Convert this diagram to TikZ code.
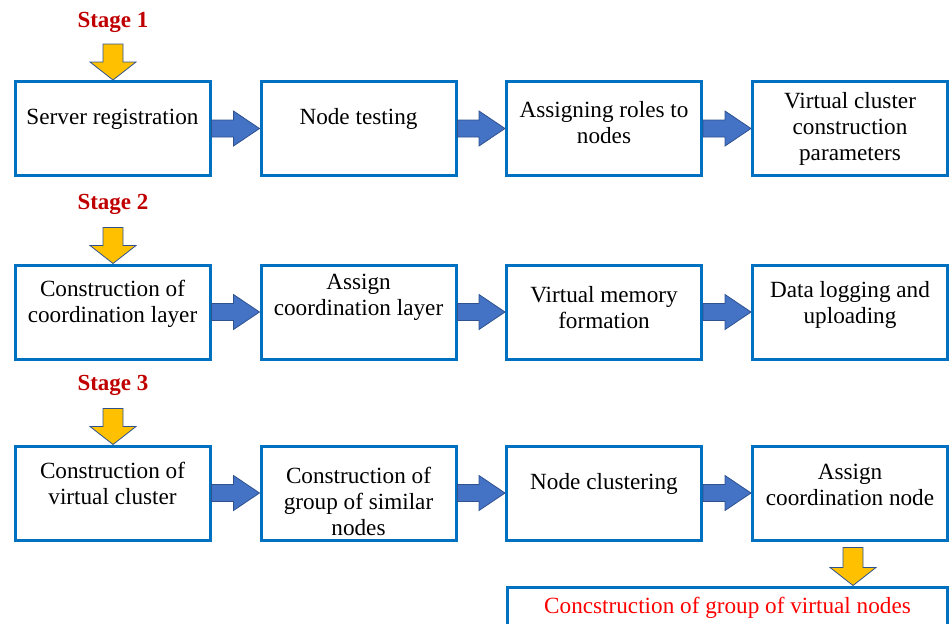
\documentclass[tikz,border=0pt]{standalone}
\usepackage{fontspec}
\setmainfont{Liberation Serif}
\usetikzlibrary{calc}
\definecolor{boxblue}{HTML}{0070C0}
\definecolor{arrfill}{HTML}{4472C4}
\definecolor{arrline}{HTML}{2F528F}
\definecolor{yel}{HTML}{FFC000}
\definecolor{stagered}{HTML}{C00000}
\tikzset{
  stepbox/.style={draw=boxblue, line width=3pt, minimum width=195pt, minimum height=94pt, inner sep=0pt},
  txt/.style={align=center, font=\fontsize{23.2}{26}\selectfont, inner sep=0pt},
  stagelbl/.style={font=\fontsize{23}{26}\selectfont\bfseries, text=stagered, inner sep=0pt},
  barrow/.style={fill=arrfill, draw=arrline, line width=0.8pt, line join=miter},
  yarrow/.style={fill=yel, draw=arrline, line width=0.8pt, line join=miter}
}
\newcommand{\blockarrow}[2]{%
  \path[barrow] ($(#1.east)+(0,-8.5)$) -- ($(#2.west)+(-26,-8.5)$) -- ($(#2.west)+(-26,-17.5)$) -- (#2.west)
    -- ($(#2.west)+(-26,17.5)$) -- ($(#2.west)+(-26,8.5)$) -- ($(#1.east)+(0,8.5)$) -- cycle;}
\newcommand{\yeldown}[2]{% #1 tip coordinate, #2 total length
  \path[yarrow] ($(#1)+(-10,-#2)$) -- ($(#1)+(10,-#2)$) -- ($(#1)+(10,-18)$) -- ($(#1)+(23,-18)$) -- (#1)
    -- ($(#1)+(-23,-18)$) -- ($(#1)+(-10,-18)$) -- cycle;}
\begin{document}
\begin{tikzpicture}[x=1pt, y=-1pt]
\useasboundingbox (0,0) rectangle (951,624);
\clip (0,0) rectangle (951,624);
% row 1
\node[stepbox] (a1) at (112.5,128.5) {};
\node[stepbox] (a2) at (358.5,128.5) {};
\node[stepbox] (a3) at (604,128.5) {};
\node[stepbox] (a4) at (850,128.5) {};
% row 2
\node[stepbox] (b1) at (112.5,312) {};
\node[stepbox] (b2) at (358.5,312) {};
\node[stepbox] (b3) at (604,312) {};
\node[stepbox] (b4) at (850,312) {};
% row 3
\node[stepbox] (c1) at (112.5,493) {};
\node[stepbox] (c2) at (358.5,493) {};
\node[stepbox] (c3) at (604,493) {};
\node[stepbox] (c4) at (850,493) {};
% bottom box
\node[stepbox, minimum width=440pt, minimum height=80pt] (d) at (727.5,627) {};
% texts
\node[txt] (ta1) at (112.5,119) {Server registration};
\node[txt] (ta2) at (358.5,119) {Node testing};
\node[txt] (ta3) at (604,123) {Assigning roles to\\nodes};
\node[txt] (ta4) at (850,128.5) {Virtual cluster\\construction\\parameters};
\node[txt] (tb1) at (112.5,303.5) {Construction of\\coordination layer};
\node[txt] (tb2) at (358.5,297) {Assign\\coordination layer};
\node[txt] (tb3) at (604,308) {Virtual memory\\formation};
\node[txt] (tb4) at (850,304.5) {Data logging and\\uploading};
\node[txt] (tc1) at (112.5,483) {Construction of\\virtual cluster};
\node[txt] (tc2) at (358.5,501) {Construction of\\group of similar\\nodes};
\node[txt] (tc3) at (604,484) {Node clustering};
\node[txt] (tc4) at (850,484.5) {Assign\\coordination node};
\node[txt, text=red] (td) at (727.5,608) {Concstruction of group of virtual nodes};
% stage labels
\node[stagelbl] (s1) at (113,22) {Stage 1};
\node[stagelbl] (s2) at (113,204) {Stage 2};
\node[stagelbl] (s3) at (113,385) {Stage 3};
% yellow arrows
\coordinate (y1) at ($(a1.north)+(0.5,0)$);
\coordinate (y2) at ($(b1.north)+(0.5,0)$);
\coordinate (y3) at ($(c1.north)+(0.5,0)$);
\coordinate (y4) at ($(d.north)+(125.5,0)$);
\yeldown{y1}{36}
\yeldown{y2}{36}
\yeldown{y3}{36}
\yeldown{y4}{38}
% blue arrows
\blockarrow{a1}{a2}
\blockarrow{a2}{a3}
\blockarrow{a3}{a4}
\blockarrow{b1}{b2}
\blockarrow{b2}{b3}
\blockarrow{b3}{b4}
\blockarrow{c1}{c2}
\blockarrow{c2}{c3}
\blockarrow{c3}{c4}
\end{tikzpicture}
\end{document}
